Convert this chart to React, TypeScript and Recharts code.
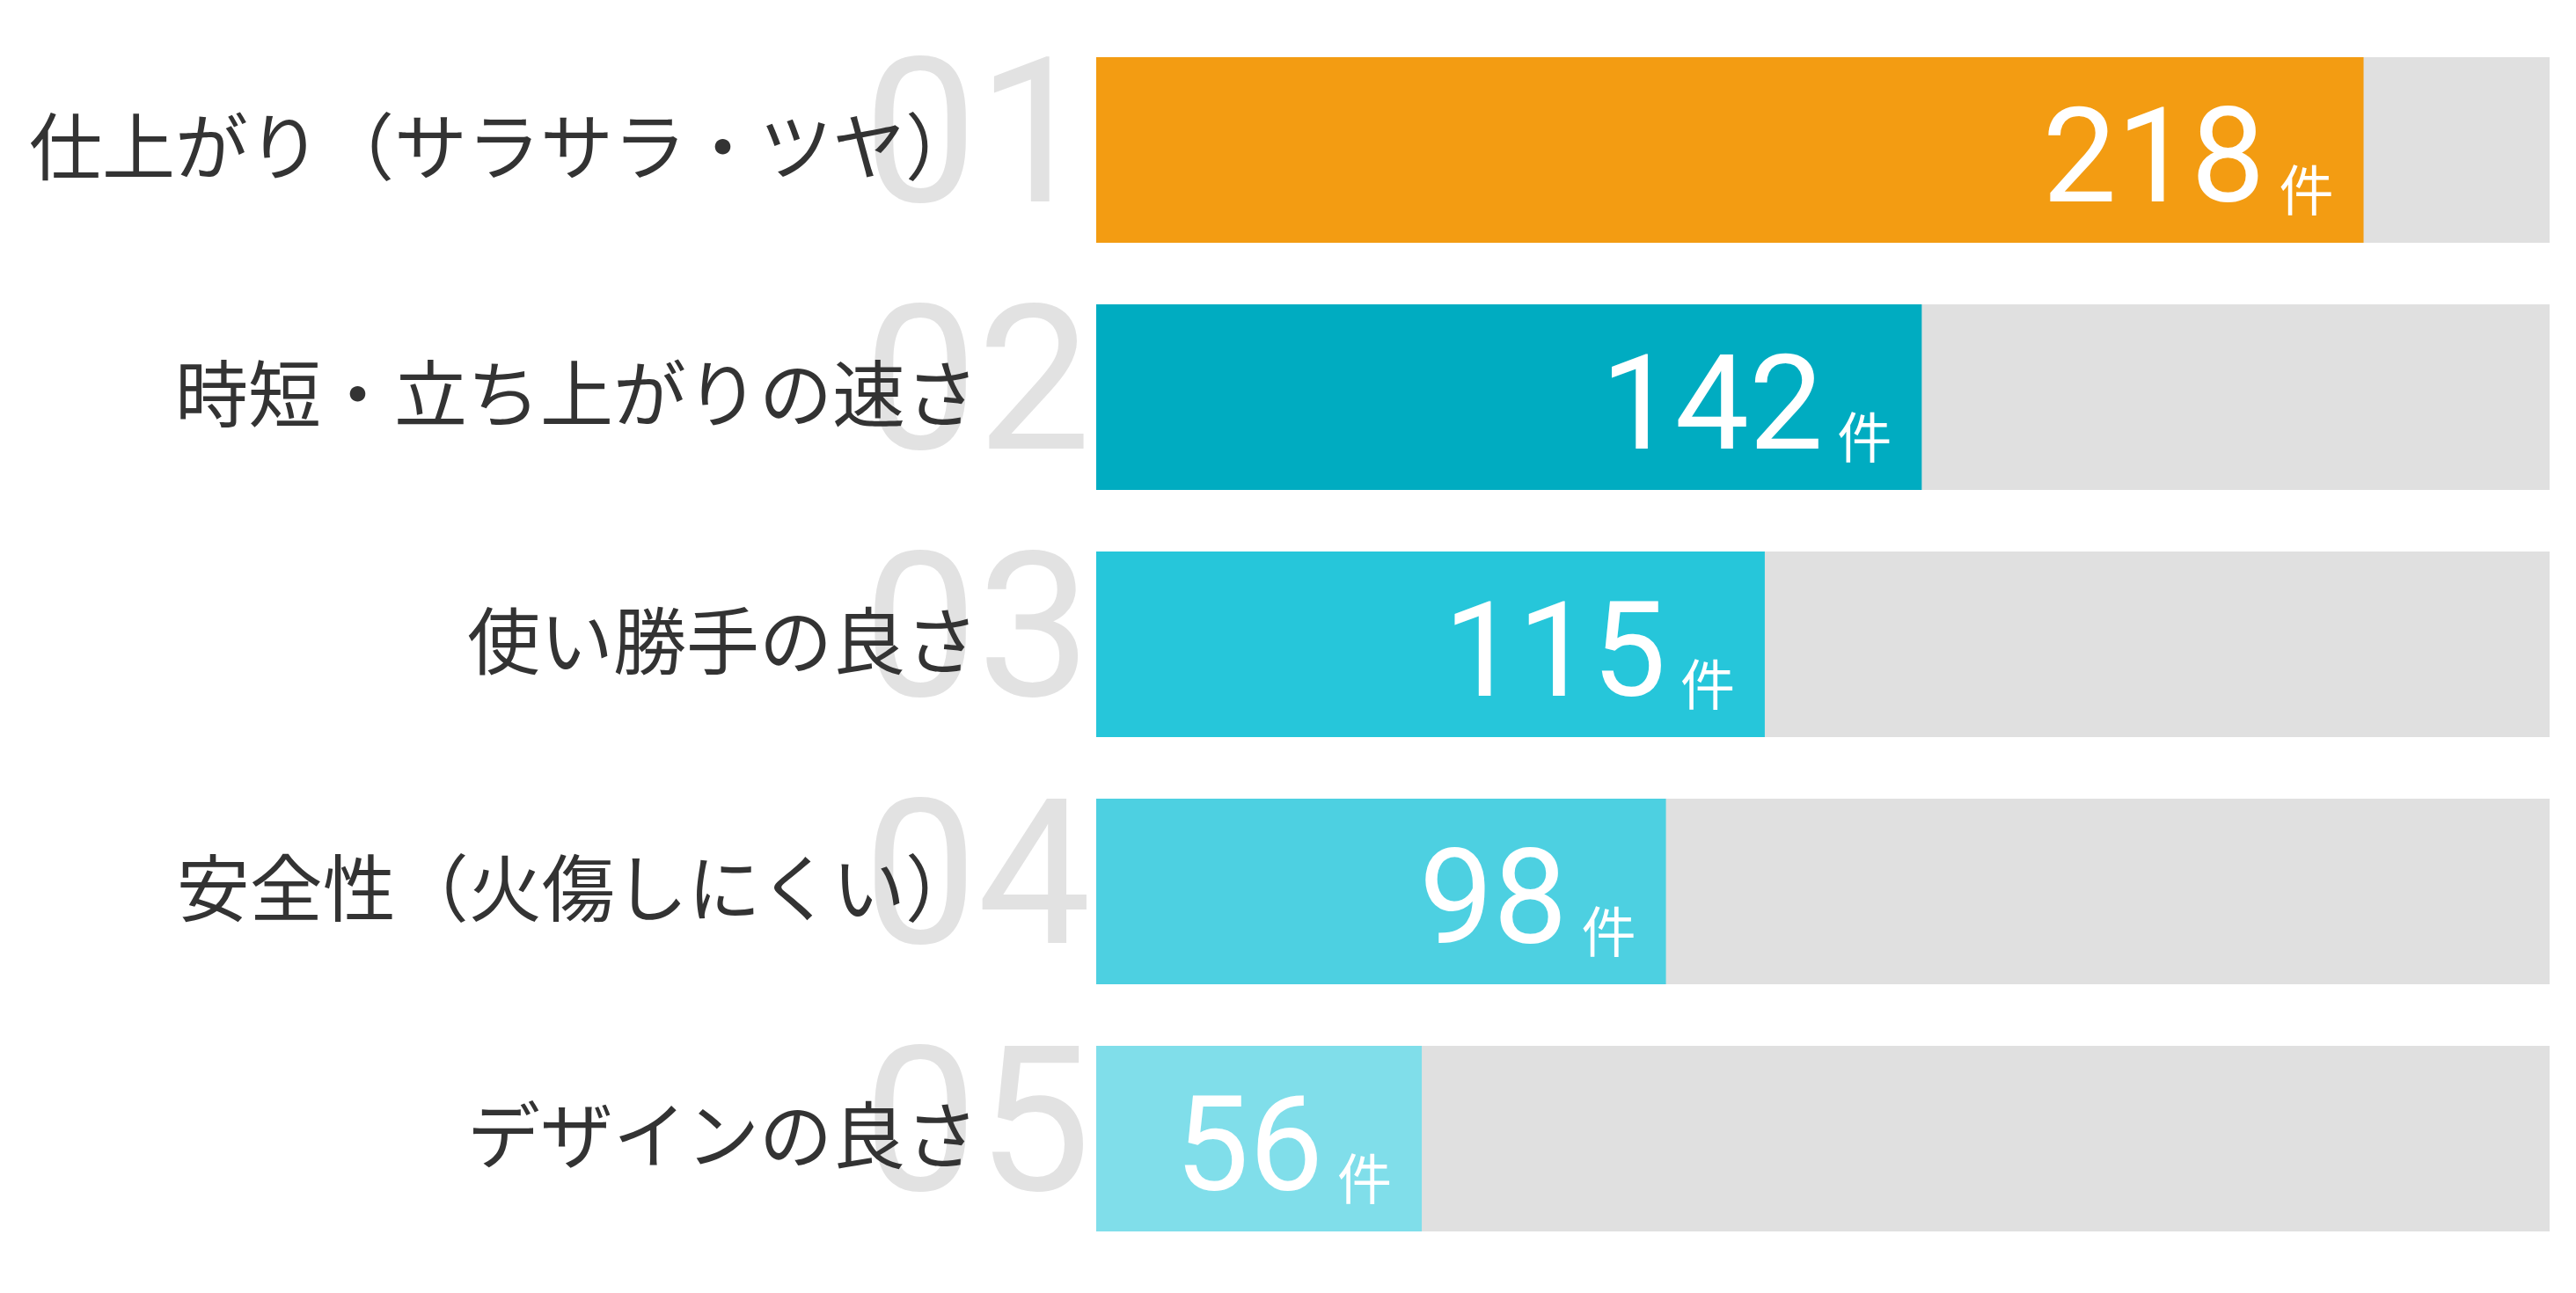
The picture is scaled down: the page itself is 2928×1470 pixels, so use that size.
import { BarChart, Bar, XAxis, YAxis, Cell, LabelList } from "recharts";

const categories = [
  "仕上がり（サラサラ・ツヤ）",
  "時短・立ち上がりの速さ",
  "使い勝手の良さ",
  "安全性（火傷しにくい）",
  "デザインの良さ",
];
const ranks = ["01", "02", "03", "04", "05"];
const counts = [218, 142, 115, 98, 56];
const unit = "件";
const COLORS = ["#F39C12", "#00ACC1", "#26C6DA", "#4DD0E1", "#80DEEA"];

const data = categories.map((name, i) => ({ name, rank: ranks[i], count: counts[i] }));

function CategoryTick(props: any) {
  const { x, y, payload, index } = props;
  return (
    <g>
      <text
        x={x - 6}
        y={y + 58}
        textAnchor="end"
        fill="#E2E2E2"
        fontSize={230}
        fontWeight={400}
        fontFamily="Roboto, sans-serif"
      >
        {ranks[index]}
      </text>
      <text
        x={x - 134}
        y={y - 9}
        textAnchor="end"
        dominantBaseline="central"
        fill="#333333"
        fontSize={83}
        fontFamily="'Noto Sans CJK JP', sans-serif"
      >
        {payload.value}
      </text>
    </g>
  );
}

function CountLabel(props: any) {
  const { x, y, width, height, value } = props;
  return (
    <text
      x={x + width - 34}
      y={y + height / 2 + 58}
      textAnchor="end"
      fill="#ffffff"
      fontFamily="Roboto, sans-serif"
    >
      <tspan fontSize={150}>{value}</tspan>
      <tspan fontSize={62} dx={16} dy={11} fontFamily="'Noto Sans CJK JP', sans-serif">
        {unit}
      </tspan>
    </text>
  );
}

export default function App() {
  return (
    <BarChart
      width={2912}
      height={1454}
      data={data}
      layout="vertical"
      margin={{ top: 22, right: 22, left: 0, bottom: 27 }}
    >
      <XAxis type="number" domain={[0, 250]} hide />
      <YAxis
        type="category"
        dataKey="name"
        width={1238}
        axisLine={false}
        tickLine={false}
        tickSize={0}
        tickMargin={0}
        tick={<CategoryTick />}
        interval={0}
      />
      <Bar
        dataKey="count"
        barSize={211}
        background={{ fill: "#E0E0E0" }}
        isAnimationActive={false}
      >
        {data.map((_, i) => (
          <Cell key={`cell-${i}`} fill={COLORS[i]} />
        ))}
        <LabelList dataKey="count" content={<CountLabel />} />
      </Bar>
    </BarChart>
  );
}
